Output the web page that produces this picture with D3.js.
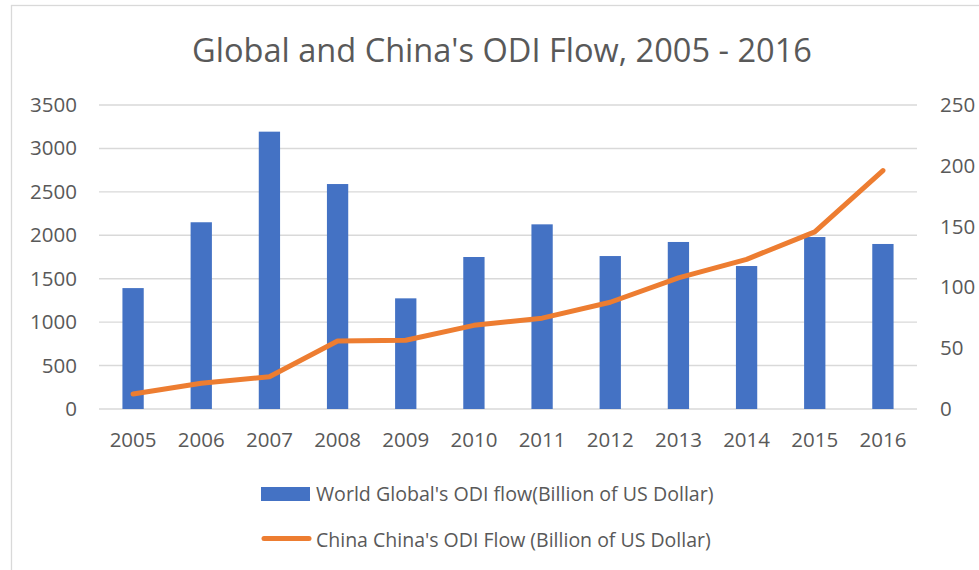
<!DOCTYPE html>
<html>
<head>
<meta charset="utf-8">
<script src="https://cdn.jsdelivr.net/npm/d3@7"></script>
<style>
  html, body { margin: 0; padding: 0; background: #fff; }
  svg { display: block; }
  text { font-family: "Open Sans", "Noto Sans", sans-serif; fill: #595959; }
</style>
</head>
<body>
<svg id="chart" width="979" height="570"></svg>
<script>
// ---- data ----
const years = ["2005","2006","2007","2008","2009","2010","2011","2012","2013","2014","2015","2016"];
const worldODI = [1392, 2150, 3193, 2590, 1274, 1750, 2126, 1761, 1923, 1646, 1980, 1900];
const chinaODI = [12.3, 21.2, 26.5, 55.9, 56.5, 68.8, 74.7, 87.8, 107.8, 123.1, 145.7, 196.1];
const leftTicks = [0, 500, 1000, 1500, 2000, 2500, 3000, 3500];
const rightTicks = [0, 50, 100, 150, 200, 250];
const titleText = "Global and China's ODI Flow, 2005 - 2016";
const legendLabels = ["World Global's ODI flow(Billion of US Dollar)", "China China's ODI Flow (Billion of US Dollar)"];

// ---- layout ----
const W = 979, H = 570;
const plot = { left: 99, right: 917, top: 105, bottom: 409 };
const barColor = "#4472C4", lineColor = "#ED7D31", gridColor = "#d9d9d9";
const tickFont = "20.5px";

const svg = d3.select("#chart");

// chart area border
svg.append("rect")
  .attr("x", 11.5).attr("y", 5.5)
  .attr("width", 1100).attr("height", 700)
  .attr("fill", "none").attr("stroke", gridColor).attr("stroke-width", 1.3);

// scales
const x = d3.scaleBand().domain(years)
  .range([plot.left, plot.right])
  .paddingInner(2.2 / 3.2).paddingOuter(1.1 / 3.2);
const yL = d3.scaleLinear().domain([0, 3500]).range([plot.bottom, plot.top]);
const yR = d3.scaleLinear().domain([0, 250]).range([plot.bottom, plot.top]);

// gridlines
svg.append("g").selectAll("line").data(leftTicks).join("line")
  .attr("x1", plot.left).attr("x2", plot.right)
  .attr("y1", d => yL(d)).attr("y2", d => yL(d))
  .attr("stroke", gridColor).attr("stroke-width", 1.4);

function styleAxis(g) {
  g.select(".domain").remove();
  g.selectAll("text").style("font-size", tickFont).attr("fill", "#595959")
    .style("font-family", "'Open Sans', sans-serif");
}

// left axis labels
const axL = d3.axisLeft(yL).tickValues(leftTicks).tickFormat(d3.format("d")).tickSize(0).tickPadding(0);
svg.append("g").attr("transform", `translate(77,0)`).call(axL).call(styleAxis);

// right axis labels
const axR = d3.axisRight(yR).tickValues(rightTicks).tickFormat(d3.format("d")).tickSize(0).tickPadding(0);
svg.append("g").attr("transform", `translate(940,0)`).call(axR).call(styleAxis);

// x axis labels
const axX = d3.axisBottom(x).tickSize(0).tickPadding(0);
svg.append("g").attr("transform", `translate(0,432)`).call(axX).call(styleAxis);

// bars
svg.append("g").selectAll("rect").data(years).join("rect")
  .attr("x", d => x(d))
  .attr("width", x.bandwidth())
  .attr("y", (d, i) => yL(worldODI[i]))
  .attr("height", (d, i) => yL(0) - yL(worldODI[i]))
  .attr("fill", barColor);

// line
const line = d3.line()
  .x((d, i) => x(years[i]) + x.bandwidth() / 2)
  .y(d => yR(d));
svg.append("path").datum(chinaODI)
  .attr("d", line)
  .attr("fill", "none").attr("stroke", lineColor)
  .attr("stroke-width", 5).attr("stroke-linecap", "round").attr("stroke-linejoin", "round");

// helper: fit text width
function fitText(sel, target, base) {
  sel.style("font-size", base + "px");
  const w = sel.node().getComputedTextLength();
  sel.style("font-size", (base * target / w).toFixed(2) + "px");
}

// title
const title = svg.append("text")
  .attr("x", 502).attr("y", 62)
  .attr("text-anchor", "middle")
  .text(titleText);
fitText(title, 620, 28);

// legend
const lg = svg.append("g");
lg.append("rect").attr("x", 261).attr("y", 487).attr("width", 49).attr("height", 14).attr("fill", barColor);
const t1 = lg.append("text").attr("x", 316).attr("y", 501).text(legendLabels[0]);
fitText(t1, 398, 19);
lg.append("line").attr("x1", 264).attr("x2", 309).attr("y1", 538.5).attr("y2", 538.5)
  .attr("stroke", lineColor).attr("stroke-width", 5).attr("stroke-linecap", "round");
const t2 = lg.append("text").attr("x", 316).attr("y", 547).text(legendLabels[1]);
fitText(t2, 395, 19);
</script>
</body>
</html>
